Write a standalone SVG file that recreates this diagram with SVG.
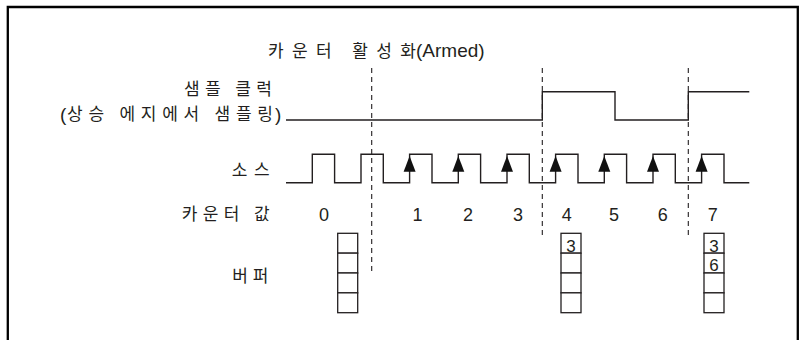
<svg xmlns="http://www.w3.org/2000/svg" width="799" height="340" viewBox="0 0 799 340">
<defs>
<style>
.lbl{font-family:"Noto Sans CJK KR","Liberation Sans",sans-serif;font-size:17px;fill:#231f20}
.lat{font-family:"Liberation Sans",sans-serif;font-size:19px;fill:#231f20}
.num{font-family:"Liberation Sans",sans-serif;font-size:18px;fill:#231f20;text-anchor:middle}
.bnum{font-family:"Liberation Sans",sans-serif;font-size:17px;fill:#231f20;text-anchor:middle}
.sig{fill:none;stroke:#231f20;stroke-width:1.4}
.dash{fill:none;stroke:#231f20;stroke-width:1.1;stroke-dasharray:5,4}
.cell{fill:#fff;stroke:#231f20;stroke-width:1.3}
.arr{fill:#111}
</style>
<polygon id="arrowhead" points="0,0 6,15.7 -6,15.7"/>
</defs>
<rect width="799" height="340" fill="#fff"/>
<path id="frame" d="M7.8,340 V7 H797.8 V340" fill="none" stroke="#000" stroke-width="2.3"/>

<g id="title">
<text class="lbl" x="268" y="56.5" textLength="148" lengthAdjust="spacing">카운터 활성화</text>
<text class="lat" x="416" y="56.5">(Armed)</text>
</g>

<g id="labels">
<text class="lbl" x="184" y="95" textLength="88" lengthAdjust="spacing">샘플 클럭</text>
<text class="lat" x="60" y="121">(</text>
<text class="lbl" x="67" y="120" textLength="206" lengthAdjust="spacing">상승 에지에서 샘플링</text>
<text class="lat" x="275" y="121">)</text>
<text class="lbl" x="231.7" y="175.5" textLength="38" lengthAdjust="spacing">소스</text>
<text class="lbl" x="181.7" y="220" textLength="88" lengthAdjust="spacing">카운터 값</text>
<text class="lbl" x="232.3" y="282" textLength="36" lengthAdjust="spacing">버퍼</text>
</g>

<g id="sample-clock">
<path class="sig" d="M286,120 H542.3 V91.7 H615 V120 H688.3 V91.7 H749.3"/>
</g>

<g id="source">
<path class="sig" d="M286,182.7 H312.3 V154.3 H334.6 V182.7 H361 V154.3 H383.3 V182.7 H409.6 V154.3 H432 V182.7 H458.3 V154.3 H480.6 V182.7 H507 V154.3 H529.3 V182.7 H555.6 V154.3 H578 V182.7 H604.3 V154.3 H626.6 V182.7 H653 V154.3 H675.3 V182.7 H701.6 V154.3 H724 V182.7 H749.3"/>
<g class="arr">
<use href="#arrowhead" x="409.6" y="156"/>
<use href="#arrowhead" x="458.3" y="156"/>
<use href="#arrowhead" x="507" y="156"/>
<use href="#arrowhead" x="555.6" y="156"/>
<use href="#arrowhead" x="604.3" y="156"/>
<use href="#arrowhead" x="653" y="156"/>
<use href="#arrowhead" x="701.6" y="156"/>
</g>
</g>

<g id="connectors">
<line class="dash" x1="371.7" y1="68" x2="371.7" y2="275"/>
<line class="dash" x1="542.3" y1="68" x2="542.3" y2="239"/>
<line class="dash" x1="688.3" y1="68" x2="688.3" y2="239"/>
</g>

<g id="counter-values">
<text class="num" x="324" y="220.5">0</text>
<text class="num" x="417.5" y="220.5">1</text>
<text class="num" x="468" y="220.5">2</text>
<text class="num" x="518" y="220.5">3</text>
<text class="num" x="566.7" y="220.5">4</text>
<text class="num" x="614" y="220.5">5</text>
<text class="num" x="662.7" y="220.5">6</text>
<text class="num" x="712.7" y="220.5">7</text>
</g>

<g id="buffer-0">
<rect class="cell" x="337.7" y="233.3" width="20" height="19.85"/>
<rect class="cell" x="337.7" y="253.15" width="20" height="19.85"/>
<rect class="cell" x="337.7" y="273" width="20" height="19.85"/>
<rect class="cell" x="337.7" y="292.85" width="20" height="19.85"/>
</g>

<g id="buffer-4">
<rect class="cell" x="561" y="233.3" width="20" height="19.85"/>
<rect class="cell" x="561" y="253.15" width="20" height="19.85"/>
<rect class="cell" x="561" y="273" width="20" height="19.85"/>
<rect class="cell" x="561" y="292.85" width="20" height="19.85"/>
<text class="bnum" x="571" y="251.7">3</text>
</g>

<g id="buffer-7">
<rect class="cell" x="704" y="233.3" width="20" height="19.85"/>
<rect class="cell" x="704" y="253.15" width="20" height="19.85"/>
<rect class="cell" x="704" y="273" width="20" height="19.85"/>
<rect class="cell" x="704" y="292.85" width="20" height="19.85"/>
<text class="bnum" x="714" y="251.7">3</text>
<text class="bnum" x="714" y="270.5">6</text>
</g>
</svg>
